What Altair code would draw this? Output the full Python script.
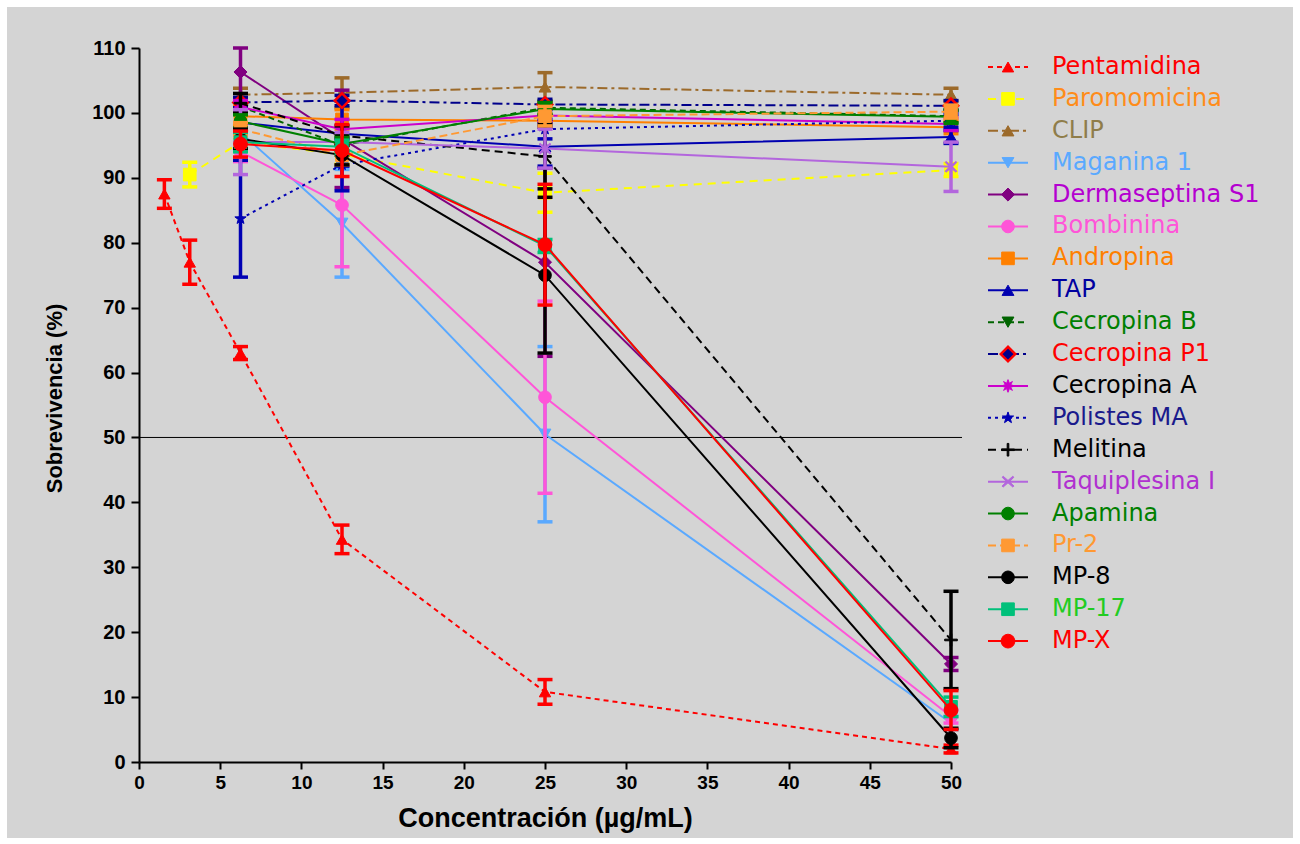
import altair as alt
import pandas as pd

# ---------------- data ----------------
series = ["Pentamidina", "Paromomicina", "CLIP", "Maganina 1", "Dermaseptina S1",
          "Bombinina", "Andropina", "TAP", "Cecropina B", "Cecropina P1",
          "Cecropina A", "Polistes MA", "Melitina", "Taquiplesina I", "Apamina",
          "Pr-2", "MP-8", "MP-17", "MP-X"]

conc_pent = [1.5625, 3.125, 6.25, 12.5, 25, 50]
conc_parom = [3.125, 6.25, 12.5, 25, 50]
conc = [6.25, 12.5, 25, 50]

x_values = {
    "Pentamidina": conc_pent,
    "Paromomicina": conc_parom,
}

y_pentamidina = [87.5, 77.0, 63.0, 34.3, 10.8, 2.0]
e_pentamidina = [2.2, 3.4, 1.0, 2.2, 1.9, 0.6]
y_paromomicina = [90.5, 95.5, 93.6, 87.7, 91.2]
e_paromomicina = [1.9, 1.0, 1.5, 3.0, 1.0]
y_clip = [102.8, 103.1, 104.0, 102.8]
e_clip = [1.0, 2.3, 2.2, 1.0]
y_maganina = [97.0, 83.0, 50.5, 6.0]
e_maganina = [1.5, 8.3, 13.5, 1.0]
y_dermaseptina = [106.3, 96.0, 77.0, 15.1]
e_dermaseptina = [4.0, 7.5, 14.5, 1.0]
y_bombinina = [94.0, 85.8, 56.2, 7.0]
e_bombinina = [1.5, 9.5, 14.8, 1.0]
y_andropina = [99.5, 99.0, 98.8, 97.8]
e_andropina = [1.5, 1.5, 1.0, 1.0]
y_tap = [98.5, 96.8, 94.8, 96.3]
e_tap = [1.5, 5.0, 3.0, 1.0]
y_cecropina_b = [101.0, 95.0, 100.8, 99.5]
e_cecropina_b = [1.0, 1.5, 1.0, 1.0]
y_cecropina_p1 = [101.6, 101.9, 101.3, 101.1]
e_cecropina_p1 = [0.8, 0.8, 0.8, 0.8]
y_cecropina_a = [100.9, 97.5, 99.6, 98.3]
e_cecropina_a = [1.0, 1.5, 1.0, 1.0]
y_polistes = [83.7, 92.0, 97.5, 98.8]
e_polistes = [9.0, 4.0, 1.5, 1.0]
y_melitina = [101.5, 96.5, 93.3, 18.8]
e_melitina = [1.5, 1.5, 5.0, 7.5]
y_taquiplesina = [95.5, 95.5, 94.5, 91.7]
e_taquiplesina = [5.0, 1.5, 3.0, 3.8]
y_apamina = [98.7, 95.2, 100.6, 99.4]
e_apamina = [1.0, 1.0, 1.0, 1.0]
y_pr2 = [97.5, 93.5, 99.5, 100.2]
e_pr2 = [1.0, 1.5, 1.5, 1.0]
y_mp8 = [96.0, 93.5, 75.0, 3.7]
e_mp8 = [1.5, 1.5, 12.0, 1.5]
y_mp17 = [95.5, 94.8, 79.5, 8.5]
e_mp17 = [1.5, 1.0, 1.0, 1.5]
y_mpx = [95.2, 94.2, 79.7, 8.0]
e_mpx = [2.0, 4.0, 9.3, 3.0]

y_values = {
    "Pentamidina": (y_pentamidina, e_pentamidina),
    "Paromomicina": (y_paromomicina, e_paromomicina),
    "CLIP": (y_clip, e_clip),
    "Maganina 1": (y_maganina, e_maganina),
    "Dermaseptina S1": (y_dermaseptina, e_dermaseptina),
    "Bombinina": (y_bombinina, e_bombinina),
    "Andropina": (y_andropina, e_andropina),
    "TAP": (y_tap, e_tap),
    "Cecropina B": (y_cecropina_b, e_cecropina_b),
    "Cecropina P1": (y_cecropina_p1, e_cecropina_p1),
    "Cecropina A": (y_cecropina_a, e_cecropina_a),
    "Polistes MA": (y_polistes, e_polistes),
    "Melitina": (y_melitina, e_melitina),
    "Taquiplesina I": (y_taquiplesina, e_taquiplesina),
    "Apamina": (y_apamina, e_apamina),
    "Pr-2": (y_pr2, e_pr2),
    "MP-8": (y_mp8, e_mp8),
    "MP-17": (y_mp17, e_mp17),
    "MP-X": (y_mpx, e_mpx),
}

x_ticks = list(range(0, 51, 5))
y_ticks = list(range(0, 111, 10))
threshold = [50]

# ---------------- styles ----------------
STAR8 = ("M0,-1L0.22,-0.42L0.7,-0.7L0.42,-0.22L1,0L0.42,0.22L0.7,0.7L0.22,0.42"
         "L0,1L-0.22,0.42L-0.7,0.7L-0.42,0.22L-1,0L-0.42,-0.22L-0.7,-0.7L-0.22,-0.42Z")
STAR5 = ("M0,-1L0.235,-0.324L0.951,-0.309L0.38,0.124L0.588,0.809L0,0.4"
         "L-0.588,0.809L-0.38,0.124L-0.951,-0.309L-0.235,-0.324Z")
PLUS = ("M-1,-0.13L-0.13,-0.13L-0.13,-1L0.13,-1L0.13,-0.13L1,-0.13L1,0.13L0.13,0.13"
        "L0.13,1L-0.13,1L-0.13,0.13L-1,0.13Z")
XMARK = ("M-1,-0.75L-0.8,-0.9L0,-0.2L0.8,-0.9L1,-0.75L0.25,0L1,0.75L0.8,0.9L0,0.2"
         "L-0.8,0.9L-1,0.75L-0.25,0Z")

styles = {
    "Pentamidina":    dict(c="#ff0000", t="#ff0000", dash=[5, 4], shape="triangle-up", size=130),
    "Paromomicina":   dict(c="#ffff00", t="#ff8c1a", dash=[8, 6], shape="square", size=160),
    "CLIP":           dict(c="#9c6a2a", t="#8f7d4a", dash=[10, 4, 3, 4], shape="triangle-up", size=140),
    "Maganina 1":     dict(c="#5aa9ff", t="#5aa9ff", dash=None, shape="triangle-down", size=140),
    "Dermaseptina S1": dict(c="#800080", t="#b400d0", dash=None, shape="diamond", size=170),
    "Bombinina":      dict(c="#ff55d8", t="#ff55d8", dash=None, shape="circle", size=160),
    "Andropina":      dict(c="#ff8000", t="#ff8000", dash=None, shape="square", size=160),
    "TAP":            dict(c="#0000b0", t="#0000a0", dash=None, shape="triangle-up", size=140),
    "Cecropina B":    dict(c="#006400", t="#008000", dash=[6, 4], shape="triangle-down", size=140),
    "Cecropina P1":   dict(c="#00008b", t="#ff0000", dash=[10, 4, 3, 4], shape="diamond", size=210,
                           fill="#00008b", stroke="#ff0000", sw=2.5),
    "Cecropina A":    dict(c="#cc00cc", t="#000000", dash=None, shape=STAR8, size=160),
    "Polistes MA":    dict(c="#0000b4", t="#1a1a8c", dash=[3, 4], shape=STAR5, size=140),
    "Melitina":       dict(c="#000000", t="#000000", dash=[8, 5], shape=PLUS, size=160),
    "Taquiplesina I": dict(c="#b366dd", t="#b030d0", dash=None, shape=XMARK, size=140),
    "Apamina":        dict(c="#008000", t="#008000", dash=None, shape="circle", size=160),
    "Pr-2":           dict(c="#ff9933", t="#ff9933", dash=[8, 4], shape="square", size=160),
    "MP-8":           dict(c="#000000", t="#000000", dash=None, shape="circle", size=160),
    "MP-17":          dict(c="#00c07a", t="#22cc22", dash=None, shape="square", size=160),
    "MP-X":           dict(c="#ff0000", t="#ff0000", dash=None, shape="circle", size=190),
}

FONT = "Liberation Sans, Arial, Helvetica, sans-serif"
NARROW = "Liberation Sans Narrow, Arial Narrow, Liberation Sans, Arial, sans-serif"
LEGEND_FONT = "DejaVu Sans, Verdana, sans-serif"

x_axis = alt.Axis(values=x_ticks, title="Concentración (µg/mL)", grid=False,
                  labelFont=FONT, labelFontSize=19, labelFontWeight="bold", labelColor="black",
                  labelPadding=4, labelFlush=False, labelOverlap=False,
                  tickColor="black", tickWidth=2, tickSize=7,
                  domainColor="black", domainWidth=2,
                  titleFont=FONT, titleFontSize=27, titleFontWeight="bold", titleColor="black",
                  titleY=56, titleBaseline="middle", zindex=1)
y_axis = alt.Axis(values=y_ticks, title="Sobrevivencia (%)", grid=False,
                  labelFont=FONT, labelFontSize=20, labelFontWeight="bold", labelColor="black",
                  labelPadding=6, labelOverlap=False, labelFlush=False,
                  tickColor="black", tickWidth=2, tickSize=8,
                  domainColor="black", domainWidth=2,
                  titleFont=NARROW, titleFontSize=22, titleFontWeight="bold", titleColor="black",
                  titleX=-85, titleY=350, titleAngle=270, titleAlign="center",
                  titleBaseline="middle", zindex=1)

x_scale = alt.Scale(domain=[0, 50], nice=False, zero=False)
y_scale = alt.Scale(domain=[0, 110], nice=False, zero=False)


def X(field):
    return alt.X(f"{field}:Q", scale=x_scale, axis=x_axis)


def Y(field):
    return alt.Y(f"{field}:Q", scale=y_scale, axis=y_axis)


def point_kwargs(st):
    return dict(shape=st["shape"], size=st["size"], opacity=1, filled=True,
                fill=st.get("fill", st["c"]), stroke=st.get("stroke", st["c"]),
                strokeWidth=st.get("sw", 1))


def line_kwargs(st, width=2):
    kw = dict(color=st["c"], strokeWidth=width)
    if st["dash"]:
        kw["strokeDash"] = st["dash"]
    return kw


# frame (white border around a grey figure)
frame = alt.Chart(pd.DataFrame({"a": [0]})).mark_rect(color="#d4d4d4").encode(
    x=alt.value(-132), x2=alt.value(1154), y=alt.value(-41), y2=alt.value(790))

ref_line = alt.Chart(pd.DataFrame({"y": threshold})).mark_rule(
    color="black", strokeWidth=1).encode(y=Y("y"), x=alt.value(0), x2=alt.value(823))

main_layers = [frame, ref_line]
for name in series:
    st = styles[name]
    xs = x_values.get(name, conc)
    ys, es = y_values[name]
    df = pd.DataFrame({
        "x": xs, "y": ys,
        "lo": [y - e for y, e in zip(ys, es)],
        "hi": [min(y + e, 110) for y, e in zip(ys, es)],
    })
    base = alt.Chart(df)
    ecol = st["c"]
    main_layers.append(base.mark_line(**line_kwargs(st)).encode(x=X("x"), y=Y("y")))
    main_layers.append(base.mark_rule(color=ecol, strokeWidth=3.5).encode(
        x=X("x"), y=Y("lo"), y2="hi:Q"))
    main_layers.append(base.mark_tick(orient="horizontal", size=15, thickness=3.5,
                                      color=ecol, opacity=1).encode(x=X("x"), y=Y("lo")))
    main_layers.append(base.mark_tick(orient="horizontal", size=15, thickness=3.5,
                                      color=ecol, opacity=1).encode(x=X("x"), y=Y("hi")))
    main_layers.append(base.mark_point(**point_kwargs(st)).encode(x=X("x"), y=Y("y")))

main_group = alt.layer(*main_layers)

# ---------------- legend ----------------
LY = alt.Y("idx:Q", scale=alt.Scale(domain=[-0.596, 21.79], reverse=True, nice=False, zero=False),
           axis=None)
legend_layers = []
for i, name in enumerate(series):
    st = styles[name]
    ldf = pd.DataFrame({"idx": [i], "name": [name]})
    lb = alt.Chart(ldf)
    legend_layers.append(lb.mark_rule(**line_kwargs(st)).encode(
        y=LY, x=alt.value(849), x2=alt.value(889)))
    legend_layers.append(lb.mark_point(**point_kwargs(st)).encode(y=LY, x=alt.value(869)))
    legend_layers.append(lb.mark_text(align="left", baseline="middle", font=LEGEND_FONT,
                                      fontSize=24, color=st["t"]).encode(
        y=LY, x=alt.value(913), text="name:N"))

legend_group = alt.layer(*legend_layers)

chart = alt.layer(main_group, legend_group).resolve_scale(y="independent").properties(
    width=812, height=714,
    autosize=alt.AutoSizeParams(type="none"),
    padding={"left": 139, "top": 48, "right": 349, "bottom": 82},
    background="white",
).configure_view(stroke=None)

chart.save("out.html", embed_options={"renderer": "svg", "actions": False})
